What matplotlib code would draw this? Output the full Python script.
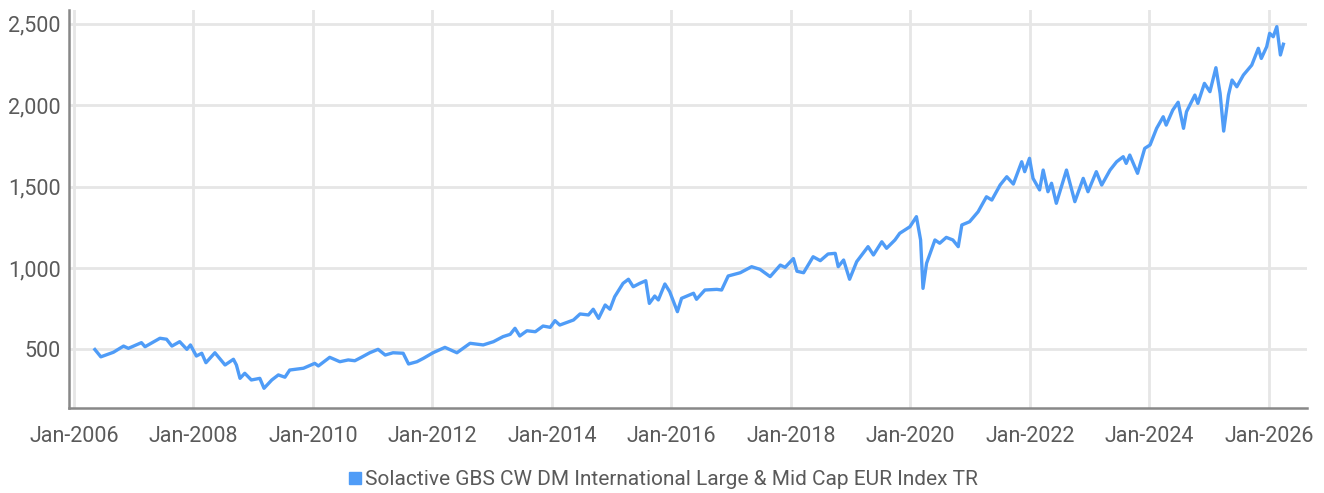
import numpy as np
import pandas as pd
import matplotlib
matplotlib.use("Agg")
import matplotlib.pyplot as plt
import matplotlib.dates as mdates
from matplotlib.lines import Line2D

plt.rcParams['font.family'] = ['Roboto', 'DejaVu Sans']

series_name = 'Solactive GBS CW DM International Large & Mid Cap EUR Index TR'

# decimal years, with index levels
years = [
    2006.35, 2006.45, 2006.66, 2006.83, 2006.91, 2007.13, 2007.19, 2007.44, 2007.55, 2007.64,
    2007.77, 2007.89, 2007.95, 2008.05, 2008.14, 2008.21, 2008.36, 2008.53, 2008.67, 2008.72,
    2008.78, 2008.86, 2008.97, 2009.11, 2009.18, 2009.31, 2009.42, 2009.53, 2009.61, 2009.84,
    2010.03, 2010.09, 2010.28, 2010.45, 2010.59, 2010.70, 2010.81, 2010.95, 2011.09, 2011.21,
    2011.34, 2011.51, 2011.60, 2011.74, 2011.85, 2012.01, 2012.21, 2012.41, 2012.63, 2012.85,
    2013.02, 2013.18, 2013.30, 2013.38, 2013.46, 2013.58, 2013.72, 2013.85, 2013.97, 2014.05,
    2014.13, 2014.36, 2014.47, 2014.61, 2014.69, 2014.78, 2014.89, 2014.97, 2015.05, 2015.19,
    2015.28, 2015.36, 2015.47, 2015.57, 2015.63, 2015.72, 2015.78, 2015.89, 2015.97, 2016.10,
    2016.17, 2016.37, 2016.42, 2016.56, 2016.76, 2016.84, 2016.95, 2017.15, 2017.34, 2017.48,
    2017.65, 2017.82, 2017.90, 2018.04, 2018.10, 2018.21, 2018.37, 2018.49, 2018.62, 2018.74,
    2018.79, 2018.88, 2018.98, 2019.10, 2019.29, 2019.38, 2019.52, 2019.60, 2019.74, 2019.82,
    2019.99, 2020.10, 2020.17, 2020.21, 2020.27, 2020.41, 2020.49, 2020.60, 2020.71, 2020.80,
    2020.86, 2020.99, 2021.13, 2021.27, 2021.36, 2021.50, 2021.61, 2021.72, 2021.86, 2021.91,
    2021.99, 2022.05, 2022.16, 2022.22, 2022.30, 2022.36, 2022.44, 2022.61, 2022.75, 2022.89,
    2022.97, 2023.11, 2023.20, 2023.34, 2023.45, 2023.56, 2023.61, 2023.67, 2023.80, 2023.92,
    2024.01, 2024.12, 2024.23, 2024.28, 2024.39, 2024.48, 2024.57, 2024.62, 2024.76, 2024.81,
    2024.92, 2025.01, 2025.11, 2025.18, 2025.24, 2025.32, 2025.38, 2025.46, 2025.57, 2025.71,
    2025.82, 2025.87, 2025.96, 2026.01, 2026.07, 2026.13, 2026.19, 2026.24,
]
values = [
    500, 455, 483, 521, 507, 542, 517, 569, 563, 521,
    548, 501, 528, 460, 477, 419, 480, 405, 440, 405,
    323, 354, 313, 323, 262, 313, 344, 330, 374, 385,
    415, 399, 452, 425, 436, 431, 452, 480, 501, 466,
    480, 477, 411, 425, 446, 480, 513, 480, 538, 528,
    548, 579, 593, 630, 583, 615, 609, 644, 636, 677,
    650, 681, 718, 712, 747, 691, 773, 747, 824, 906,
    931, 885, 906, 922, 783, 828, 804, 902, 855, 732,
    814, 845, 808, 865, 869, 865, 951, 971, 1008, 992,
    947, 1018, 1004, 1058, 980, 971, 1069, 1045, 1086, 1090,
    1008, 1049, 931, 1039, 1131, 1080, 1161, 1121, 1172, 1213,
    1253, 1315, 1172, 875, 1029, 1172, 1152, 1188, 1172, 1131,
    1264, 1284, 1345, 1437, 1417, 1510, 1560, 1515, 1652, 1591,
    1673, 1550, 1479, 1601, 1468, 1520, 1397, 1601, 1407, 1550,
    1468, 1591, 1509, 1601, 1652, 1683, 1642, 1693, 1581, 1734,
    1755, 1857, 1928, 1877, 1969, 2017, 1857, 1959, 2061, 2010,
    2133, 2082, 2229, 2072, 1840, 2061, 2153, 2112, 2184, 2245,
    2348, 2286, 2358, 2440, 2419, 2481, 2307, 2373,
]

yticks = [500, 1000, 1500, 2000, 2500]
xtick_years = list(range(2006, 2027, 2))


def to_date(y):
    base = pd.Timestamp(int(y), 1, 1)
    return base + pd.Timedelta(days=(y - int(y)) * 365.25)


dates = [to_date(y) for y in years]

line_color = '#4f9cf7'
text_color = '#5a5a5a'

fig = plt.figure(figsize=(13.24, 4.93), dpi=100)
ax = fig.add_axes([0.0521, 0.1724, 0.9351, 0.8073])

ax.plot(dates, values, color=line_color, lw=2.4, solid_joinstyle='round')

ax.set_xlim(to_date(2005.916), to_date(2026.636))
ax.set_ylim(141, 2583)

ax.set_yticks(yticks)
ax.set_yticklabels([f'{v:,}' for v in yticks])
ax.set_xticks([pd.Timestamp(y, 1, 1) for y in xtick_years])
ax.xaxis.set_major_formatter(mdates.DateFormatter('%b-%Y'))

ax.grid(True, color='#e6e6e6', lw=2)
ax.set_axisbelow(True)
for s in ['top', 'right']:
    ax.spines[s].set_visible(False)
for s in ['left', 'bottom']:
    ax.spines[s].set_color('#888888')
    ax.spines[s].set_linewidth(1.8)

ax.tick_params(length=0, labelsize=15.5, labelcolor=text_color)
ax.tick_params(axis='x', pad=13)
ax.tick_params(axis='y', pad=6)

handle = Line2D([], [], color=line_color, marker='s', linestyle='None', markersize=8)
leg = fig.legend([handle], [series_name], loc='center', bbox_to_anchor=(0.5, 0.027),
                 frameon=False, handletextpad=0.1, handlelength=0.8,
                 prop={'size': 15})
for t in leg.get_texts():
    t.set_color(text_color)

fig.savefig('out.png', dpi=100)
